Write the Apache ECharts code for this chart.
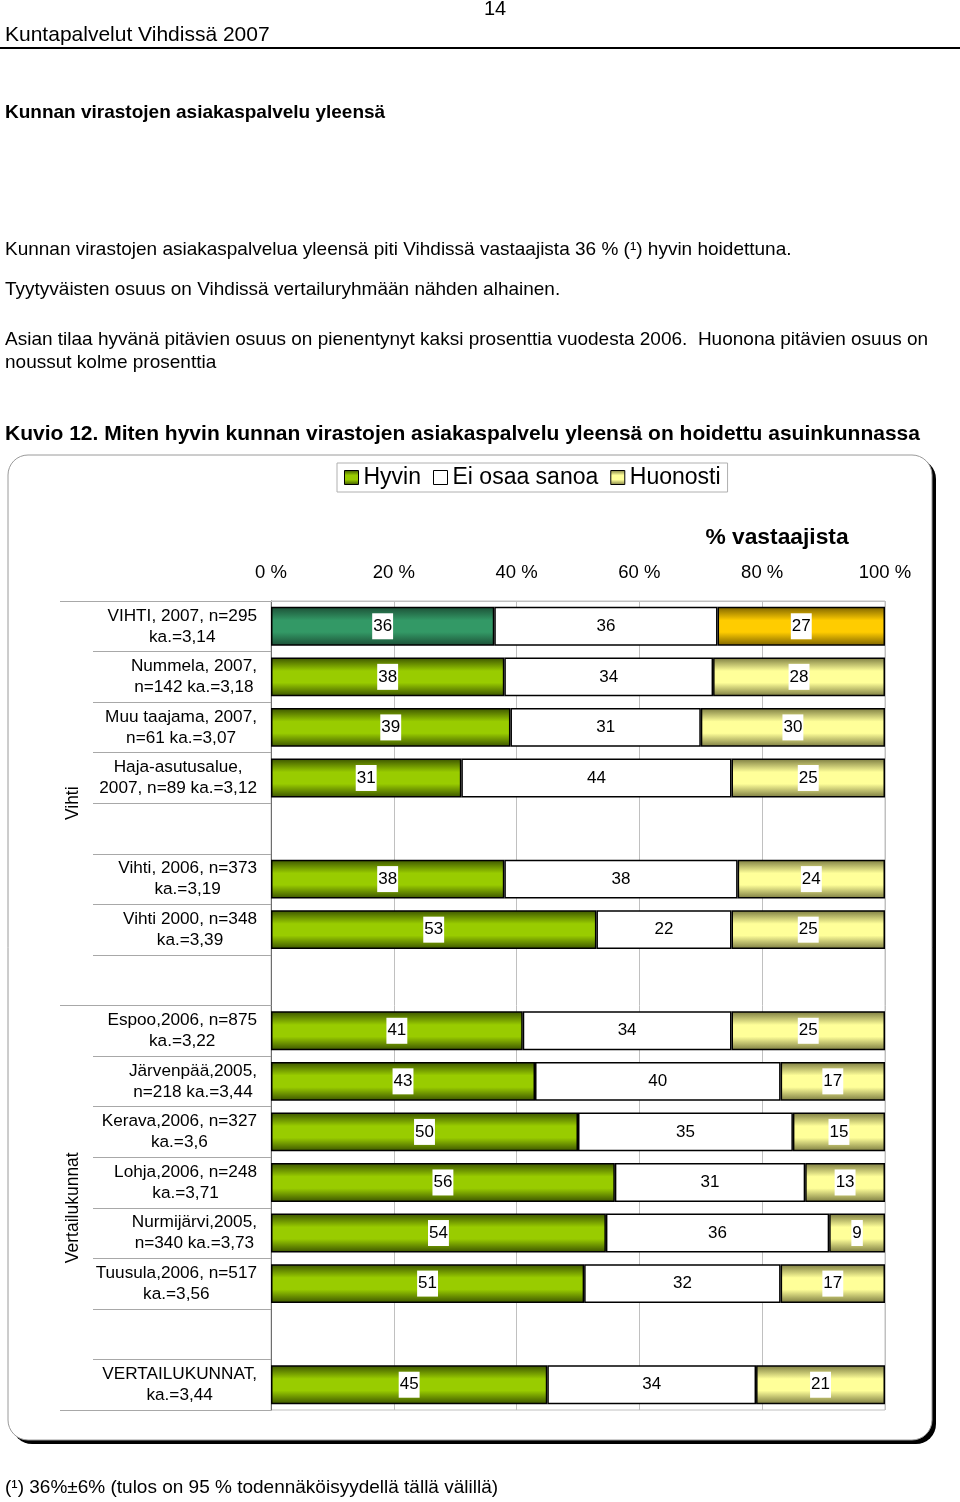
<!DOCTYPE html>
<html><head><meta charset="utf-8">
<script src="https://cdn.jsdelivr.net/npm/echarts@6/dist/echarts.min.js"></script>
<style>html,body{margin:0;padding:0;background:#fff}#c{width:960px;height:1502px}</style>
</head><body><div id="c"></div>
<script>
// ---------- data ----------
const categories = [
  'VIHTI, 2007, n=295\nka.=3,14',
  'Nummela, 2007,\nn=142 ka.=3,18',
  'Muu taajama, 2007,\nn=61 ka.=3,07',
  'Haja-asutusalue,\n2007, n=89 ka.=3,12',
  ' ',
  'Vihti, 2006, n=373\nka.=3,19',
  'Vihti 2000, n=348\nka.=3,39',
  '  ',
  'Espoo,2006, n=875\nka.=3,22',
  'Järvenpää,2005,\nn=218 ka.=3,44',
  'Kerava,2006, n=327\nka.=3,6',
  'Lohja,2006, n=248\nka.=3,71',
  'Nurmijärvi,2005,\nn=340 ka.=3,73',
  'Tuusula,2006, n=517\nka.=3,56',
  '   ',
  'VERTAILUKUNNAT,\nka.=3,44'
];
const groups = ['Vihti', 'Vertailukunnat'];
const seriesNames = ['Hyvin', 'Ei osaa sanoa', 'Huonosti'];
const hyvin    = [36, 38, 39, 31, null, 38, 53, null, 41, 43, 50, 56, 54, 51, null, 45];
const eiOsaa   = [36, 34, 31, 44, null, 38, 22, null, 34, 40, 35, 31, 36, 32, null, 34];
const huonosti = [27, 28, 30, 25, null, 24, 25, null, 25, 17, 15, 13,  9, 17, null, 21];
const tickLabels = ['0 %', '20 %', '40 %', '60 %', '80 %', '100 %'];
const highlightRow = 0;

// ---------- styling ----------
const FF = '"Liberation Sans", Arial, Helvetica, sans-serif';
const G = echarts.graphic.LinearGradient;
function band(edge, mid) {
  return new G(0, 0, 0, 1, [
    {offset: 0, color: edge}, {offset: 0.35, color: mid},
    {offset: 0.65, color: mid}, {offset: 1, color: edge}]);
}
const cGreen = band('#3a5200', '#99cc00');
const cTeal = band('#1c4f36', '#339966');
const cGold = band('#7d6300', '#ffcc00');
const cPale = band('#7a7a40', '#ffff99');

const raw = [hyvin, eiOsaa, huonosti];
const totals = categories.map((c, i) => raw.reduce((s, a) => s + (a[i] || 0), 0));
function shares(arr, k) {
  return arr.map((v, i) => {
    if (v == null) return '-';
    const item = {value: v / totals[i] * 100};
    if (i === highlightRow && k === 0) item.itemStyle = {color: cTeal};
    if (i === highlightRow && k === 2) item.itemStyle = {color: cGold};
    return item;
  });
}
const colors = [cGreen, '#ffffff', cPale];

const series = seriesNames.map((name, k) => ({
  name, type: 'bar', stack: 'all', barCategoryGap: '23%',
  data: shares(raw[k], k),
  itemStyle: {color: colors[k], borderColor: '#000', borderWidth: 1.5},
  emphasis: {disabled: true},
  label: {
    show: true, position: 'inside', color: '#000', fontSize: 17, fontFamily: FF,
    backgroundColor: '#fff', padding: [5, 1, 4, 1],
    formatter: p => String(raw[k][p.dataIndex])
  }
}));

const textEl = (text, x, y, size, bold, align) => ({
  type: 'text', z: 50, x, y,
  style: {text, fill: '#000', font: (bold ? 'bold ' : '') + size + 'px ' + FF,
          textAlign: align || 'left', textVerticalAlign: 'middle'}
});

const option = {
  animation: false,
  backgroundColor: '#fff',
  legend: {
    left: 337, top: 463, padding: [3, 7, 3, 7], itemGap: 12,
    itemWidth: 14, itemHeight: 14, icon: 'rect',
    borderColor: '#b0b0b0', borderWidth: 1,
    itemStyle: {borderColor: '#000', borderWidth: 1},
    textStyle: {fontSize: 23, color: '#000', fontFamily: FF},
    data: seriesNames
  },
  grid: {left: 271, right: 75, top: 601, bottom: 92, show: true,
         borderColor: '#c0c0c0', borderWidth: 1, backgroundColor: 'transparent'},
  xAxis: {
    type: 'value', position: 'top', min: 0, max: 100, interval: 20,
    axisLine: {show: true, lineStyle: {color: '#c0c0c0'}},
    axisTick: {show: false},
    splitLine: {show: true, lineStyle: {color: '#c0c0c0', width: 1}},
    axisLabel: {margin: 19, fontSize: 18.5, color: '#000', fontFamily: FF,
                formatter: v => tickLabels[Math.round(v / 20)]}
  },
  yAxis: [
    {
      type: 'category', data: categories, inverse: true, position: 'left',
      axisLine: {show: true, lineStyle: {color: '#6e6e6e', width: 1}},
      axisTick: {show: true, interval: 0, length: 178, lineStyle: {color: '#a8a8a8'}},
      axisLabel: {
        interval: 0, margin: 14, color: '#000', fontSize: 17.2, fontFamily: FF, lineHeight: 21,
        formatter: v => v.trim() === '' ? '' : v.split('\n').map(l => '{c|' + l + '}').join('\n'),
        rich: {c: {align: 'center', fontSize: 17.2, fontFamily: FF, lineHeight: 21, color: '#000'}}
      },
      splitLine: {show: false}
    },
    {
      type: 'category', data: categories, inverse: true, position: 'left',
      axisLine: {show: false},
      axisTick: {show: true, interval: 7, length: 211, lineStyle: {color: '#a8a8a8'}},
      axisLabel: {show: false}, splitLine: {show: false}
    },
    {
      type: 'category', data: groups, inverse: true, position: 'left', offset: 181,
      axisLine: {show: false}, axisTick: {show: false}, splitLine: {show: false},
      axisLabel: {interval: 0, rotate: 90, margin: 8, fontSize: 17.5, color: '#000', fontFamily: FF}
    }
  ],
  series,
  graphic: {elements: [
    {type: 'rect', z: -20, shape: {x: 12, y: 459, width: 924, height: 985, r: 20}, style: {fill: '#000'}},
    {type: 'rect', z: -19, shape: {x: 8, y: 455, width: 924, height: 985, r: 20},
     style: {fill: '#fff', stroke: '#9a9a9a', lineWidth: 1}},
    {type: 'line', z: 50, shape: {x1: 0, y1: 48, x2: 960, y2: 48}, style: {stroke: '#000', lineWidth: 2}},
    textEl('14', 495, 9, 20, false, 'center'),
    textEl('Kuntapalvelut Vihdissä 2007', 5, 35, 21, false),
    textEl('Kunnan virastojen asiakaspalvelu yleensä', 5, 113, 19, true),
    textEl('Kunnan virastojen asiakaspalvelua yleensä piti Vihdissä vastaajista 36 % (¹) hyvin hoidettuna.', 5, 250, 19, false),
    textEl('Tyytyväisten osuus on Vihdissä vertailuryhmään nähden alhainen.', 5, 290, 19, false),
    textEl('Asian tilaa hyvänä pitävien osuus on pienentynyt kaksi prosenttia vuodesta 2006.  Huonona pitävien osuus on', 5, 340, 19, false),
    textEl('noussut kolme prosenttia', 5, 363, 19, false),
    textEl('Kuvio 12. Miten hyvin kunnan virastojen asiakaspalvelu yleensä on hoidettu asuinkunnassa', 5, 434, 21, true),
    textEl('% vastaajista', 777, 538, 22.8, true, 'center'),
    textEl('(¹) 36%±6% (tulos on 95 % todennäköisyydellä tällä välillä)', 5, 1488, 19, false)
  ]}
};
const chart = echarts.init(document.getElementById('c'), null, {renderer: 'canvas'});
chart.setOption(option);
</script>
</body></html>
